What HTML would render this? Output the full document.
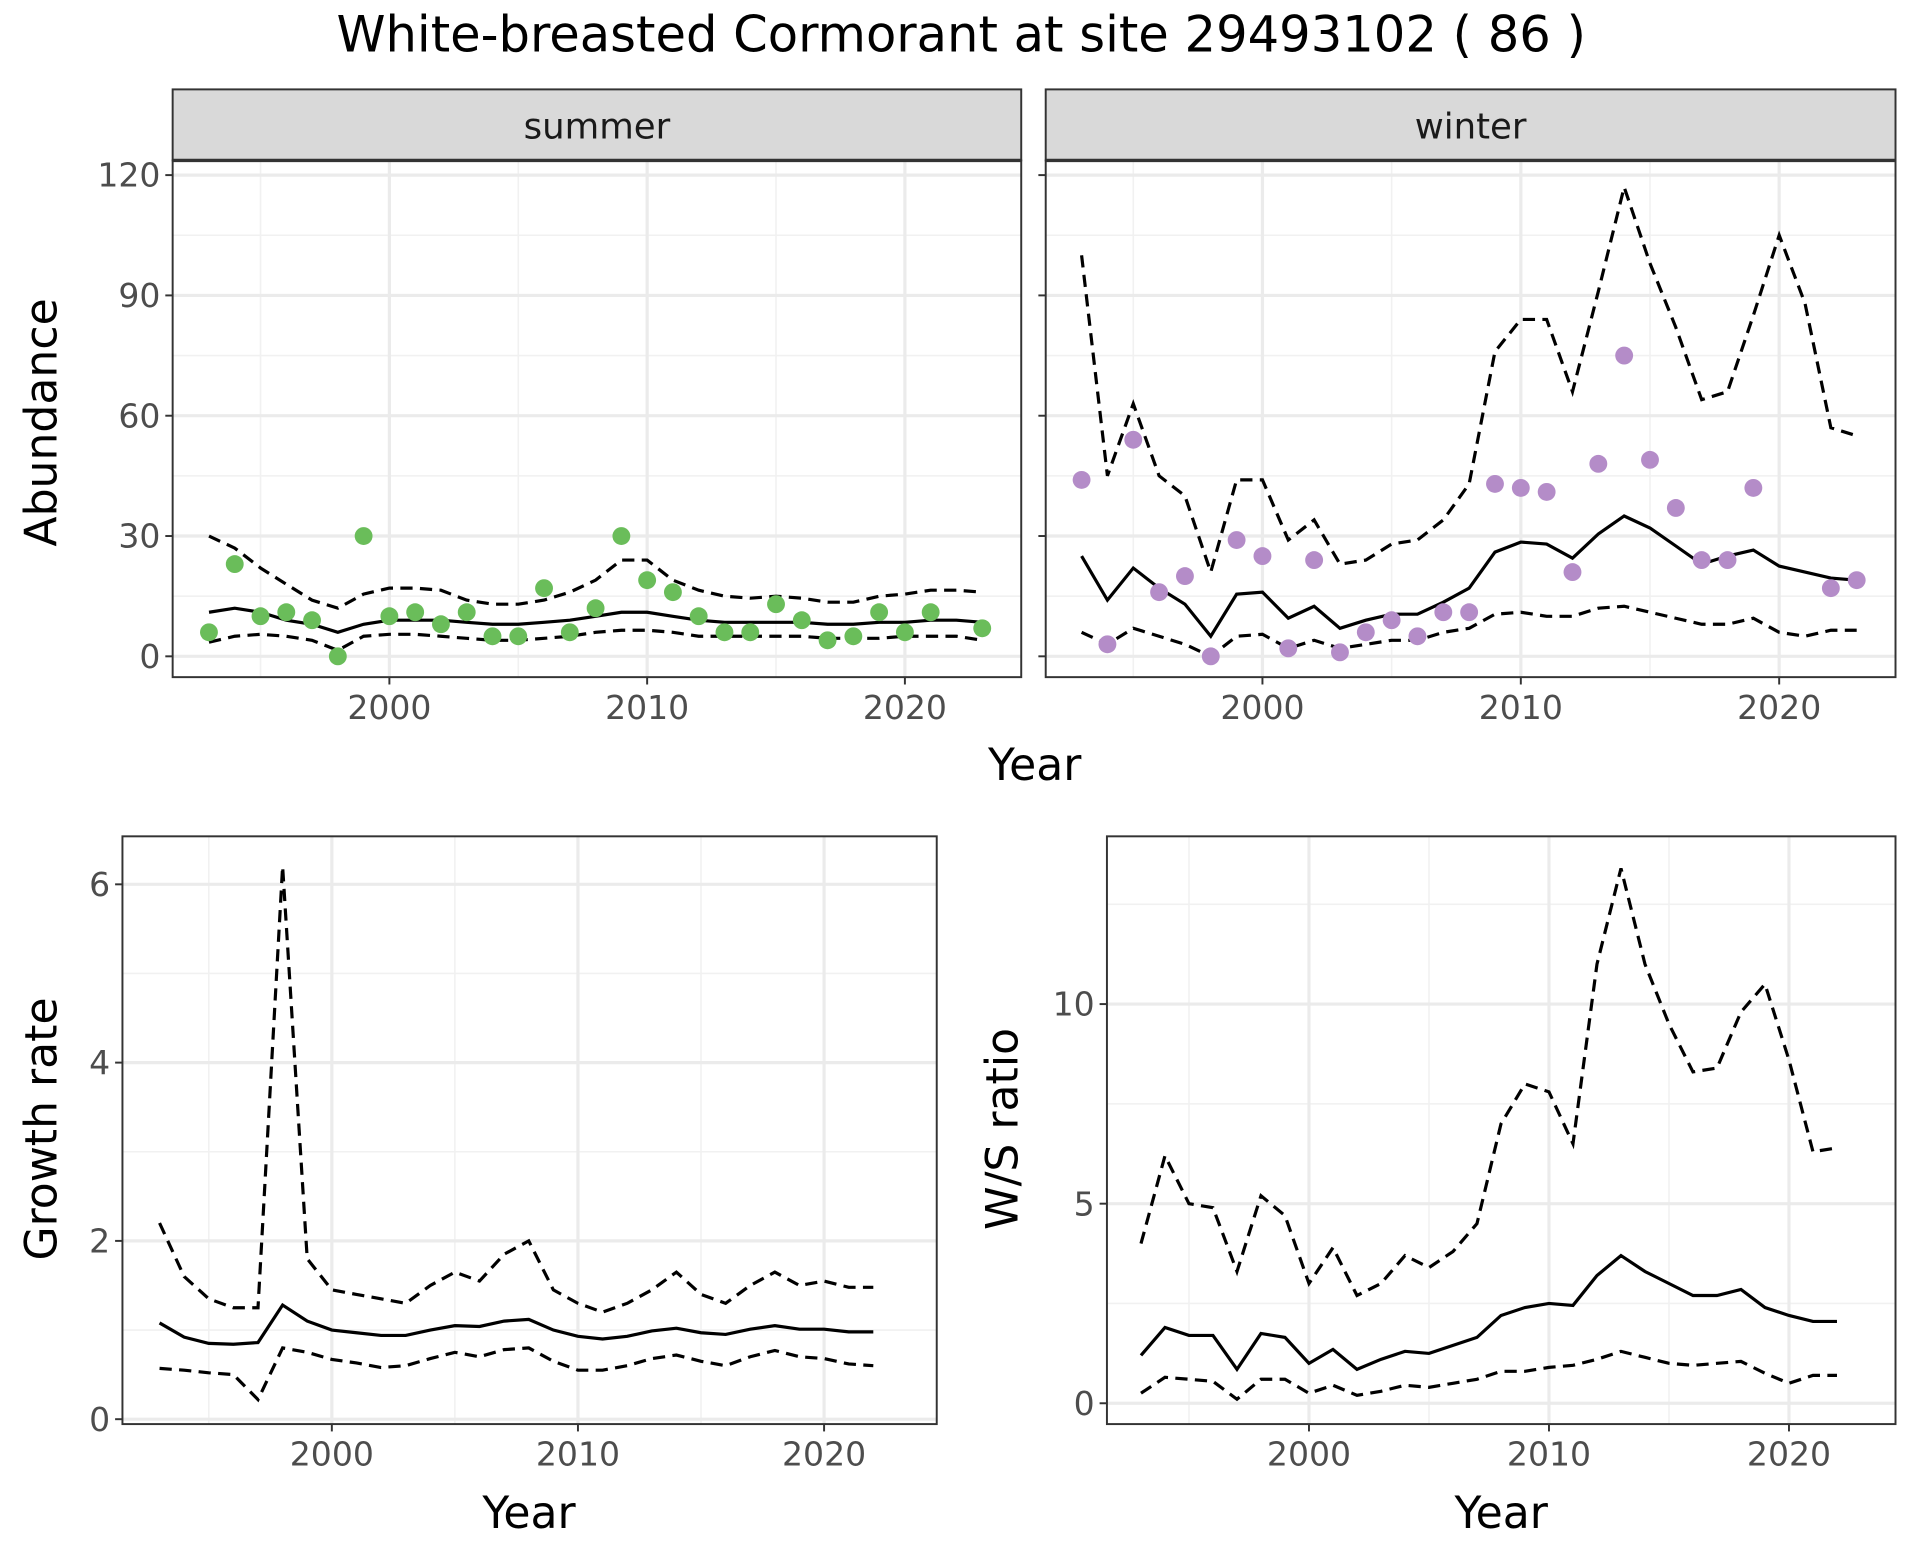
<!DOCTYPE html>
<html><head><meta charset="utf-8"><style>html,body{margin:0;padding:0;background:#fff}svg{display:block}</style></head>
<body>
<svg id="s" width="1920" height="1560" viewBox="0 0 1568 1274" preserveAspectRatio="none" xmlns="http://www.w3.org/2000/svg" font-family="DejaVu Sans, Liberation Sans, sans-serif">
<rect width="1568" height="1274" fill="#fff"/>
<text x="785" y="42" font-size="40.5" text-anchor="middle" fill="#000">White-breasted Cormorant at site 29493102 ( 86 )</text>
</svg>
<script>
const S=document.getElementById('s');let h='';
function panel(o){
 const {x0,x1,y0,y1,yr0,pxy,vy0,pv,yM,ym,xM,xm}=o;
 const X=y=>o.xa+(y-2000)*pxy, Y=v=>vy0-v*pv;
 h+=`<rect x="${x0}" y="${y0}" width="${x1-x0}" height="${y1-y0}" fill="#fff"/>`;
 for(const v of ym){const y=Y(v);if(y>y0&&y<y1)h+=`<line x1="${x0}" x2="${x1}" y1="${y}" y2="${y}" stroke="#f1f1f1" stroke-width="1.3"/>`;}
 for(const v of xm){const x=X(v);if(x>x0&&x<x1)h+=`<line y1="${y0}" y2="${y1}" x1="${x}" x2="${x}" stroke="#f1f1f1" stroke-width="1.3"/>`;}
 for(const v of yM){const y=Y(v);h+=`<line x1="${x0}" x2="${x1}" y1="${y}" y2="${y}" stroke="#ebebeb" stroke-width="2.6"/>`;
  h+=`<line x1="${x0-6}" x2="${x0}" y1="${y}" y2="${y}" stroke="#333" stroke-width="1.6"/>`;
  if(o.ylab)h+=`<text x="${x0-10}" y="${y+9.5}" font-size="27" text-anchor="end" fill="#4d4d4d">${v}</text>`;}
 for(const v of xM){const x=X(v);h+=`<line y1="${y0}" y2="${y1}" x1="${x}" x2="${x}" stroke="#ebebeb" stroke-width="2.6"/><line y1="${y1}" y2="${y1+6}" x1="${x}" x2="${x}" stroke="#333" stroke-width="1.6"/><text x="${x}" y="${y1+34}" font-size="27" text-anchor="middle" fill="#4d4d4d">${v}</text>`;}
 const line=(arr,dash)=>{let p=[];arr.forEach((v,i)=>{if(v!=null)p.push(X(yr0+i).toFixed(1)+','+Y(v).toFixed(1));});h+=`<polyline points="${p.join(' ')}" fill="none" stroke="#000" stroke-width="2.6" ${dash?'stroke-dasharray="10,6"':''}/>`;};
 if(o.up)line(o.up,1);if(o.lo)line(o.lo,1);line(o.mean,0);
 if(o.pts)o.pts.forEach((v,i)=>{if(v!=null)h+=`<circle cx="${X(yr0+i)}" cy="${Y(v)}" r="7.3" fill="${o.col}"/>`;});
 h+=`<rect x="${x0}" y="${y0}" width="${x1-x0}" height="${y1-y0}" fill="none" stroke="#333" stroke-width="1.6"/>`;
 if(o.strip)h+=`<rect x="${x0}" y="73" width="${x1-x0}" height="58" fill="#d9d9d9" stroke="#333" stroke-width="1.6"/><line x1="${x0}" x2="${x1}" y1="131" y2="131" stroke="#333" stroke-width="2.8"/><text x="${(x0+x1)/2}" y="113" font-size="29" text-anchor="middle" fill="#1a1a1a">${o.strip}</text>`;
}
const xm=[1995,2005,2015,2025],xM=[2000,2010,2020];
panel({x0:141,x1:834,y0:131,y1:553,yr0:1993,xa:318,pxy:21.05,vy0:536,pv:3.275,yM:[0,30,60,90,120],ym:[15,45,75,105,135],xM,xm,ylab:1,strip:'summer',col:'#6abd5a',
pts:[6,23,10,11,9,0,30,10,11,8,11,5,5,17,6,12,30,19,16,10,6,6,13,9,4,5,11,6,11,null,7],
mean:[11,12,11,9,8,6,8,9,9,9,8.5,8,8,8.5,9,10,11,11,10,9,8.5,8.5,8.5,8.5,8,8,8.5,8.5,9,9,8.5],
up:[30,27,22,18,14,12,15.5,17,17,16.5,14,13,13,14,16,19,24,24,19,16.5,15,14.5,15,14.5,13.5,13.5,15,15.5,16.5,16.5,16],
lo:[3.5,5,5.5,5,4,1.5,5,5.5,5.5,5,4.5,4,4,4.5,5,6,6.5,6.5,6,5,5,5,5,5,4.5,4.5,4.5,5,5,5,4]});
panel({x0:854,x1:1548,y0:131,y1:553,yr0:1993,xa:1031,pxy:21.1,vy0:536,pv:3.275,yM:[0,30,60,90,120],ym:[15,45,75,105,135],xM,xm,ylab:0,strip:'winter',col:'#b48cc8',
pts:[44,3,54,16,20,0,29,25,2,24,1,6,9,5,11,11,43,42,41,21,48,75,49,37,24,24,42,null,null,17,19],
mean:[25,14,22,17,13,5,15.5,16,9.5,12.5,7,9,10.5,10.5,13.5,17,26,28.5,28,24.5,30.5,35,32,27.5,23,25,26.5,22.5,21,19.5,19],
up:[100,45,63,45,40,21,44,44,29,34,23,24,28,29,34,43,76,84,84,66,91,117,98,82,64,66,85,105,88,57,55],
lo:[6,3,7,5,3,0,5,5.5,2,4,2,3,4,4,6,7,10.5,11,10,10,12,12.5,11,9.5,8,8,9.5,6,5,6.5,6.5]});
panel({x0:100,x1:765,y0:683,y1:1163,yr0:1993,xa:271,pxy:20.1,vy0:1159,pv:72.8,yM:[0,2,4,6],ym:[1,3,5],xM,xm,ylab:1,
mean:[1.08,0.92,0.85,0.84,0.86,1.28,1.1,1.0,0.97,0.94,0.94,1.0,1.05,1.04,1.1,1.12,1.0,0.93,0.9,0.93,0.99,1.02,0.97,0.95,1.01,1.05,1.01,1.01,0.98,0.98],
up:[2.2,1.6,1.35,1.25,1.25,6.2,1.8,1.45,1.4,1.35,1.3,1.5,1.65,1.55,1.85,2.0,1.45,1.3,1.2,1.3,1.45,1.65,1.4,1.3,1.5,1.65,1.5,1.55,1.48,1.48],
lo:[0.57,0.55,0.52,0.5,0.22,0.8,0.75,0.67,0.63,0.58,0.6,0.68,0.75,0.7,0.78,0.8,0.65,0.55,0.55,0.6,0.68,0.72,0.65,0.6,0.7,0.77,0.7,0.68,0.62,0.6]});
panel({x0:904,x1:1548,y0:683,y1:1163,yr0:1993,xa:1069,pxy:19.6,vy0:1146,pv:32.6,yM:[0,5,10],ym:[2.5,7.5,12.5],xM,xm,ylab:1,
mean:[1.2,1.9,1.7,1.7,0.85,1.75,1.65,1.0,1.35,0.85,1.1,1.3,1.25,1.45,1.65,2.2,2.4,2.5,2.45,3.2,3.7,3.3,3.0,2.7,2.7,2.85,2.4,2.2,2.05,2.05],
up:[4,6.2,5,4.9,3.3,5.2,4.7,3.0,3.9,2.7,3.0,3.7,3.4,3.8,4.5,7,8,7.8,6.5,11,13.4,11,9.5,8.3,8.4,9.8,10.5,8.6,6.3,6.4],
lo:[0.25,0.65,0.6,0.55,0.1,0.6,0.6,0.25,0.45,0.2,0.3,0.45,0.4,0.5,0.6,0.8,0.8,0.9,0.95,1.1,1.3,1.15,1.0,0.95,1.0,1.05,0.75,0.5,0.7,0.7]});
h+=`<text x="845" y="637" font-size="36" text-anchor="middle">Year</text>`;
h+=`<text x="432" y="1248" font-size="36" text-anchor="middle">Year</text>`;
h+=`<text x="1226" y="1248" font-size="36" text-anchor="middle">Year</text>`;
h+=`<text transform="translate(46,345) rotate(-90)" font-size="36" text-anchor="middle">Abundance</text>`;
h+=`<text transform="translate(46,922) rotate(-90)" font-size="36" text-anchor="middle">Growth rate</text>`;
h+=`<text transform="translate(831,922) rotate(-90)" font-size="36" text-anchor="middle">W/S ratio</text>`;
S.insertAdjacentHTML('beforeend',h);
</script>
</body></html>
